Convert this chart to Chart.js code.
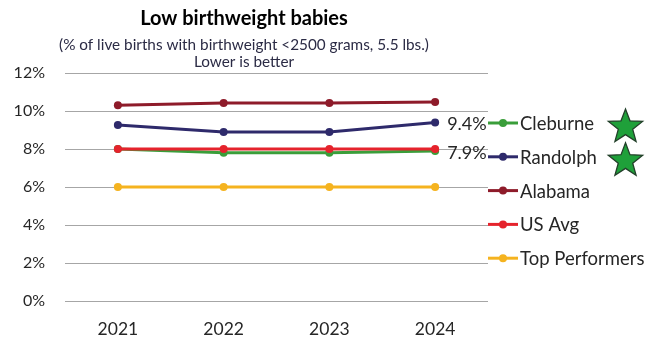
<!DOCTYPE html>
<html>
<head>
<meta charset="utf-8">
<script src="https://cdn.jsdelivr.net/npm/chart.js@4"></script>
<style>
html,body{margin:0;padding:0;background:#fff;}
#wrap{width:648px;height:339px;position:relative;}
</style>
</head>
<body>
<div id="wrap"><canvas id="c" width="648" height="339"></canvas></div>
<script>
const years = ['2021', '2022', '2023', '2024'];
const seriesNames = ['Cleburne', 'Randolph', 'Alabama', 'US Avg', 'Top Performers'];
const cleburne = [8.0, 7.8, 7.8, 7.9];
const randolph = [9.26, 8.9, 8.9, 9.4];
const alabama = [10.3, 10.42, 10.42, 10.47];
const usAvg = [8.0, 8.0, 8.0, 8.0];
const topPerformers = [6.0, 6.0, 6.0, 6.0];
const yTicks = [0, 2, 4, 6, 8, 10, 12];
const labelled = { 'Cleburne': '7.9%', 'Randolph': '9.4%' };
const starred = ['Cleburne', 'Randolph'];

const colors = ['#3a9e3a', '#2e2a6b', '#8e1b2a', '#e5232c', '#f5b31f'];
const orders = [2, 1, 1, 0, 1];
const values = [cleburne, randolph, alabama, usAvg, topPerformers];
const FONT = 'Lato, "Open Sans", sans-serif';

const datasets = seriesNames.map((n, i) => ({
  label: n,
  data: values[i],
  borderColor: colors[i],
  backgroundColor: colors[i],
  borderWidth: 3,
  pointRadius: 4,
  pointHoverRadius: 4,
  pointBorderWidth: 0,
  tension: 0,
  order: orders[i]
}));

const extras = {
  id: 'extras',
  afterDatasetsDraw(chart) {
    const ctx = chart.ctx;
    const area = chart.chartArea;
    ctx.save();
    // data labels on last point
    ctx.font = '18px ' + FONT;
    ctx.fillStyle = '#262626';
    ctx.textBaseline = 'middle';
    ctx.textAlign = 'left';
    chart.data.datasets.forEach((ds, i) => {
      if (labelled[ds.label]) {
        const meta = chart.getDatasetMeta(i);
        const pt = meta.data[meta.data.length - 1];
        ctx.fillText(labelled[ds.label], pt.x + 12, pt.y + 2);
      }
    });
    // legend
    const lx = area.right;
    const startY = 123, gap = 33.8;
    ctx.font = '18.5px ' + FONT;
    chart.data.datasets.forEach((ds, i) => {
      const y = startY + i * gap;
      ctx.strokeStyle = ds.borderColor;
      ctx.lineWidth = 3;
      ctx.beginPath();
      ctx.moveTo(lx, y);
      ctx.lineTo(lx + 30, y);
      ctx.stroke();
      ctx.fillStyle = ds.borderColor;
      ctx.beginPath();
      ctx.arc(lx + 15, y, 4, 0, Math.PI * 2);
      ctx.fill();
      ctx.fillStyle = '#262626';
      ctx.fillText(ds.label, lx + 32, y + 1);
      if (starred.includes(ds.label)) {
        const cx = 625.5, cy = y + 4, R = 18, r = 7.6;
        ctx.beginPath();
        for (let k = 0; k < 10; k++) {
          const rad = k % 2 === 0 ? R : r;
          const a = -Math.PI / 2 + k * Math.PI / 5;
          const px = cx + rad * Math.cos(a), py = cy + rad * Math.sin(a);
          if (k === 0) ctx.moveTo(px, py); else ctx.lineTo(px, py);
        }
        ctx.closePath();
        ctx.fillStyle = '#1fa03a';
        ctx.fill();
        ctx.strokeStyle = '#23402a';
        ctx.lineWidth = 1.3;
        ctx.stroke();
      }
    });
    ctx.restore();
  }
};

new Chart(document.getElementById('c'), {
  type: 'line',
  data: { labels: years, datasets },
  options: {
    responsive: false,
    animation: false,
    events: [],
    layout: { padding: { left: 0, right: 160, top: 0, bottom: 0 } },
    plugins: {
      legend: { display: false },
      tooltip: { enabled: false },
      title: {
        display: true,
        text: 'Low birthweight babies',
        color: '#000',
        font: { family: FONT, size: 20, weight: 'bold', lineHeight: 1.2 },
        padding: { top: 7, bottom: 6 }
      },
      subtitle: {
        display: true,
        text: ['(% of live births with birthweight <2500 grams, 5.5 lbs.)', 'Lower is better'],
        color: '#2b2b45',
        font: { family: FONT, size: 15.3, lineHeight: '17px' },
        padding: { top: 0, bottom: 2 }
      }
    },
    scales: {
      x: {
        offset: true,
        grid: { display: false, drawTicks: false },
        border: { display: false },
        ticks: { color: '#262626', font: { family: FONT, size: 17.5 }, padding: 18 },
        afterFit(s) { s.height = 38; }
      },
      y: {
        min: 0, max: 12,
        afterBuildTicks(s) { s.ticks = yTicks.map(v => ({ value: v })); },
        grid: { color: '#a6a6a6', lineWidth: 1, drawTicks: false },
        border: { display: false },
        ticks: { color: '#262626', font: { family: FONT, size: 16 }, padding: 20, callback: v => v + '%' },
        afterFit(s) { s.width = 65; }
      }
    }
  },
  plugins: [extras]
});
</script>
</body>
</html>
